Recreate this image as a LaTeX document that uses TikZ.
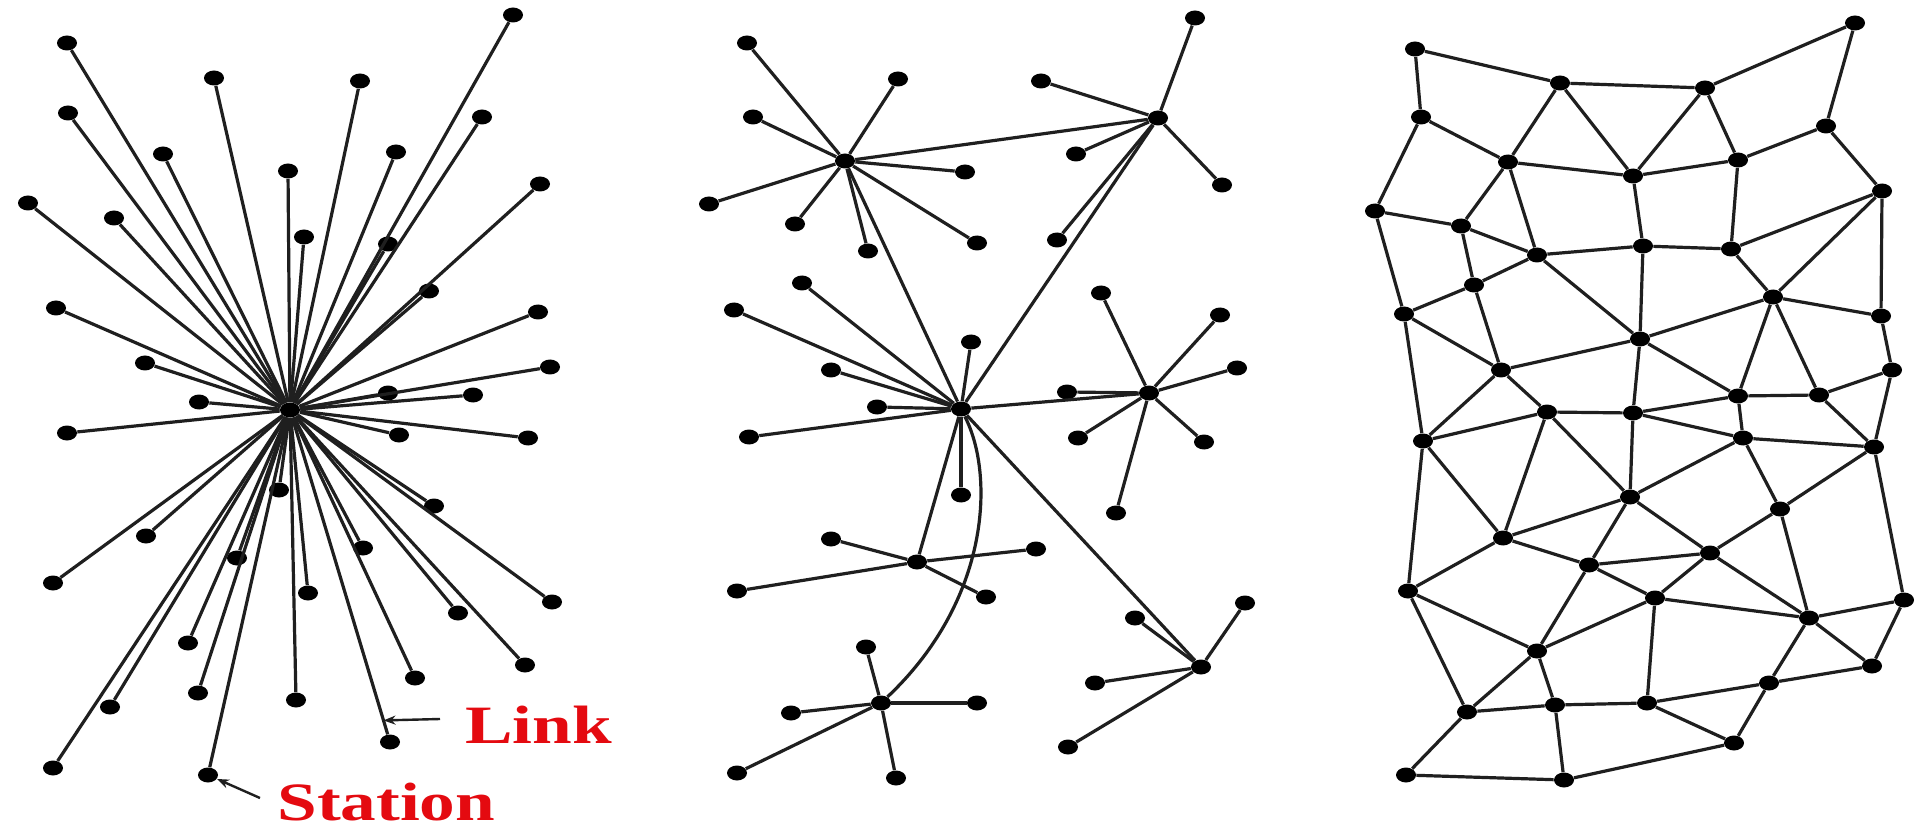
\documentclass[tikz,border=0pt]{standalone}
\usepackage{fontspec}
\setmainfont{Liberation Serif}
\usetikzlibrary{shapes.geometric,arrows.meta,calc}
\definecolor{lblred}{RGB}{228,10,16}
\begin{document}
\begin{tikzpicture}[x=0.5pt,y=-0.5pt,
  dot/.style={ellipse,fill=black,inner sep=0pt,minimum width=10pt,minimum height=7.5pt},
  edge/.style={line width=1.6pt,black!88},
  lbl/.style={text=lblred,font=\bfseries\fontsize{27}{27}\selectfont,inner sep=0pt,anchor=base west},
  ptr/.style={line width=1.2pt,black!88,-{Stealth[length=6pt,width=4.5pt]}}]
\fill[white] (0,0) rectangle (1915,828);
\useasboundingbox (0,0) rectangle (1915,828);

% ---------- centralized ----------
\node[dot] (hubL) at (290,410) {};
\foreach \n/\x/\y in {1/67/43,2/513/15,3/214/78,4/360/81,5/68/113,6/482/117,7/163/154,8/396/152,
  9/288/171,10/28/203,11/114/218,12/540/184,13/304/237,14/388/244,15/429/291,16/56/308,17/538/312,
  18/145/363,19/550/367,20/199/402,21/388/393,22/473/395,23/67/433,24/399/435,25/528/438,26/279/490,
  27/434/506,28/146/536,29/363/548,30/237/558,31/53/583,32/308/593,33/552/602,34/458/613,35/188/643,
  36/525/665,37/415/678,38/198/693,39/296/700,40/110/707,41/390/742,42/53/768,43/208/775}
  {\node[dot] (a\n) at (\x,\y) {};}
\foreach \n in {1,...,43} {\draw[edge] (hubL) -- (a\n);}

\coordinate (linkpt) at ($(hubL)!0.935!(a41)$);
\coordinate (linktail) at (440,719);
\draw[ptr] (linktail) -- (linkpt);
\node[lbl] (linklbl) at (465,743) {\scalebox{1.32}[1]{Link}};
\coordinate (stattail) at (260,798);
\draw[ptr] (stattail) -- (a43);
\node[lbl] (statlbl) at (277,820) {\scalebox{1.32}[1]{Station}};

% ---------- decentralized ----------
\node[dot] (H1) at (845,161) {};
\node[dot] (H2) at (1158,118) {};
\node[dot] (H3) at (961,409) {};
\node[dot] (H4) at (1149,393) {};
\node[dot] (H5) at (917,562) {};
\node[dot] (H6) at (881,703) {};
\node[dot] (H7) at (1201,667) {};
\foreach \n/\x/\y in {1/747/43,2/898/79,3/753/117,4/709/204,5/795/224,6/868/251,7/965/172,8/977/243}
  {\node[dot] (m\n) at (\x,\y) {}; \draw[edge] (H1) -- (m\n);}
\foreach \n/\x/\y in {1/1195/18,2/1041/81,3/1076/154,4/1222/185,5/1057/240}
  {\node[dot] (n\n) at (\x,\y) {}; \draw[edge] (H2) -- (n\n);}
\foreach \n/\x/\y in {1/802/283,2/734/310,3/971/342,4/831/370,5/877/407,6/749/437,7/961/495}
  {\node[dot] (p\n) at (\x,\y) {}; \draw[edge] (H3) -- (p\n);}
\foreach \n/\x/\y in {1/1101/293,2/1220/315,3/1237/368,4/1067/392,5/1078/438,6/1204/442,7/1116/513}
  {\node[dot] (q\n) at (\x,\y) {}; \draw[edge] (H4) -- (q\n);}
\foreach \n/\x/\y in {1/831/539,2/737/591,3/1036/549,4/986/597}
  {\node[dot] (s\n) at (\x,\y) {}; \draw[edge] (H5) -- (s\n);}
\foreach \n/\x/\y in {1/866/647,2/791/713,3/977/703,4/737/773,5/896/778}
  {\node[dot] (t\n) at (\x,\y) {}; \draw[edge] (H6) -- (t\n);}
\foreach \n/\x/\y in {1/1135/618,2/1245/603,3/1095/683,4/1068/747}
  {\node[dot] (u\n) at (\x,\y) {}; \draw[edge] (H7) -- (u\n);}
\draw[edge] (H1) -- (H2);
\draw[edge] (H1) -- (H3);
\draw[edge] (H2) -- (H3);
\draw[edge] (H3) -- (H4);
\draw[edge] (H3) -- (H5);
\draw[edge] (H3) -- (H7);
\draw[edge] (H3) .. controls (995,475) and (990,600) .. (H6);

% ---------- distributed ----------
\foreach \n/\x/\y in {1/1415/49,2/1855/23,3/1560/83,4/1705/88,5/1421/117,6/1826/126,7/1508/162,
  8/1738/160,9/1633/176,10/1882/191,11/1375/211,12/1461/226,13/1537/255,14/1643/246,15/1731/249,
  16/1474/285,17/1773/297,18/1404/314,19/1881/316,20/1640/339,21/1501/370,22/1892/370,23/1738/396,
  24/1819/395,25/1547/412,26/1633/413,27/1423/441,28/1743/438,29/1874/447,30/1630/497,31/1780/509,
  32/1503/538,33/1710/553,34/1589/565,35/1408/591,36/1655/598,37/1904/600,38/1809/618,39/1537/651,
  40/1872/666,41/1769/683,42/1467/712,43/1555/705,44/1647/703,45/1734/743,46/1406/775,47/1564/780}
  {\node[dot] (r\n) at (\x,\y) {};}
\foreach \a/\b in {1/3,1/5,3/4,4/2,2/6,3/7,3/9,4/9,4/8,6/8,6/10,5/7,5/11,7/9,9/8,7/12,7/13,9/14,
  8/15,10/15,10/17,10/19,11/12,11/18,12/13,12/16,13/14,14/15,13/16,13/20,14/20,15/17,17/20,17/19,
  17/23,17/24,16/18,16/21,18/21,18/27,20/21,20/26,20/23,19/22,22/24,22/29,23/24,24/29,21/25,21/27,
  25/26,23/28,26/23,27/25,27/32,27/35,25/32,25/30,26/30,26/28,28/29,28/30,28/31,29/31,29/37,30/32,
  30/34,30/33,31/33,31/38,32/34,32/35,34/33,34/36,34/39,33/36,33/38,35/39,35/42,36/38,36/39,36/44,
  37/38,37/40,38/40,38/41,39/42,39/43,42/43,42/46,43/44,43/47,44/41,44/45,41/40,41/45,46/47,47/45}
  {\draw[edge] (r\a) -- (r\b);}
\end{tikzpicture}
\end{document}
